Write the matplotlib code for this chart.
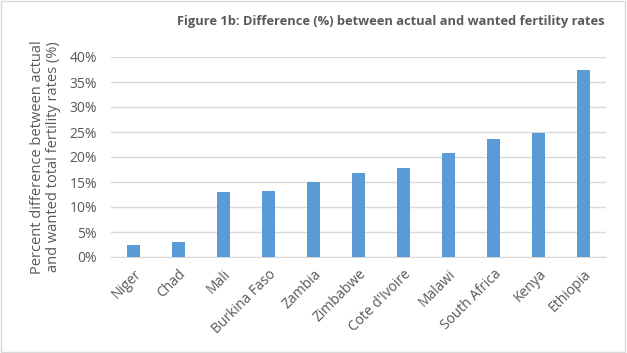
import matplotlib.pyplot as plt
from matplotlib.ticker import PercentFormatter

# Data
countries = ['Niger', 'Chad', 'Mali', 'Burkina Faso', 'Zambia', 'Zimbabwe',
             "Cote d'Ivoire", 'Malawi', 'South Africa', 'Kenya', 'Ethiopia']
pct_diff = [2.4, 3.0, 13.0, 13.2, 15.0, 16.8, 17.8, 20.8, 23.6, 24.8, 37.4]

plt.rcParams['font.family'] = ['Open Sans', 'DejaVu Sans']
text_col = '#595959'

fig = plt.figure(figsize=(6.27, 3.53), dpi=100)
ax = fig.add_axes([111 / 627, 1 - 257 / 353, 495 / 627, 200 / 353])

ax.bar(range(len(countries)), pct_diff, width=0.31, color='#5B9BD5', zorder=3)

ax.set_xlim(-0.5, len(countries) - 0.5)
ax.set_ylim(0, 40)
ax.set_yticks(range(0, 41, 5))
ax.yaxis.set_major_formatter(PercentFormatter(decimals=0))
ax.grid(axis='y', color='#D9D9D9', linewidth=1, zorder=0)
for s in ['top', 'right', 'left']:
    ax.spines[s].set_visible(False)
ax.spines['bottom'].set_color('#D9D9D9')
ax.tick_params(axis='both', length=0, labelsize=10, colors=text_col)
ax.tick_params(axis='y', pad=10)
ax.tick_params(axis='x', pad=7)

ax.set_xticks(range(len(countries)))
ax.set_xticklabels(countries, rotation=45, ha='right', rotation_mode='anchor')

ax.set_ylabel('Percent difference between actual\nand wanted total fertility rates (%)',
              fontsize=10.5, color=text_col, labelpad=6, linespacing=1.1)

fig.text(391 / 627, 1 - 22 / 353,
         'Figure 1b: Difference (%) between actual and wanted fertility rates',
         ha='center', va='center', fontsize=9.3, fontweight='bold', color=text_col)

# thin grey frame around the whole chart
fig.patches.append(plt.Rectangle((0.002, 0.003), 0.995, 0.994, transform=fig.transFigure,
                                 fill=False, edgecolor='#D9D9D9', linewidth=1))

fig.savefig('out.png', dpi=100)
